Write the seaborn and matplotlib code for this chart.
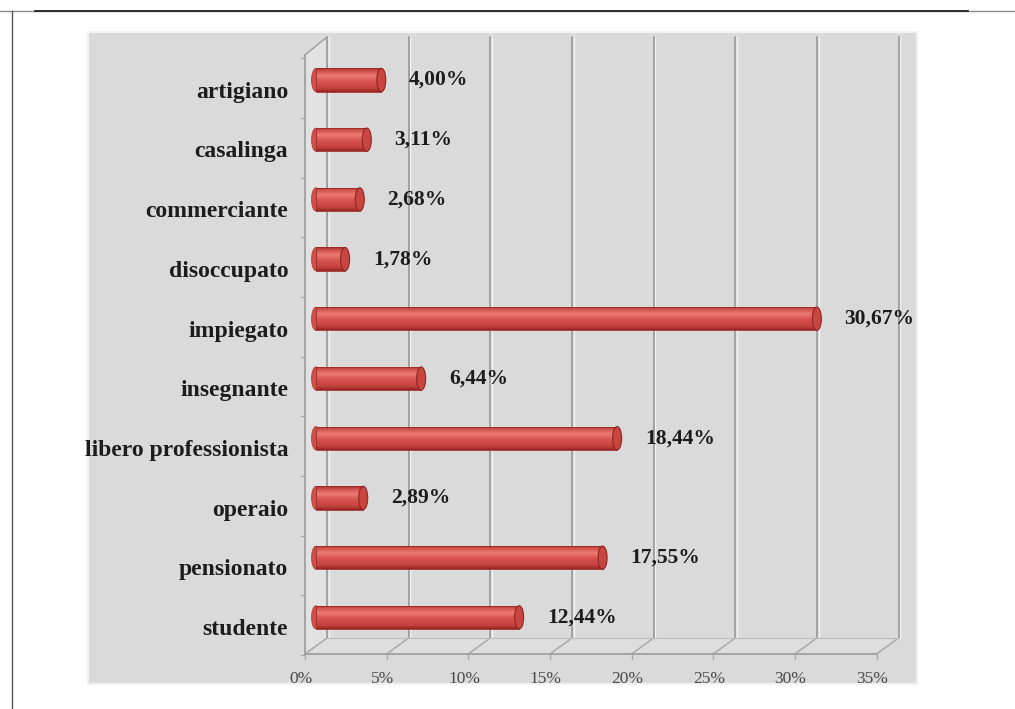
import numpy as np
import pandas as pd
import matplotlib
matplotlib.use("Agg")
import matplotlib.pyplot as plt
import matplotlib.transforms as mtransforms
from matplotlib.patches import Rectangle, Ellipse, Polygon
from matplotlib.lines import Line2D
from matplotlib.colors import LinearSegmentedColormap
import seaborn as sns

# ---- data -------------------------------------------------------------
categories = ["artigiano", "casalinga", "commerciante", "disoccupato", "impiegato",
              "insegnante", "libero professionista", "operaio", "pensionato", "studente"]
percentages = [4.00, 3.11, 2.68, 1.78, 30.67, 6.44, 18.44, 2.89, 17.55, 12.44]
x_ticks = [0, 5, 10, 15, 20, 25, 30, 35]
x_tick_labels = ["0%", "5%", "10%", "15%", "20%", "25%", "30%", "35%"]

df = pd.DataFrame({"professione": categories, "quota": percentages})

# ---- figure -----------------------------------------------------------
W, H, DPI = 1015, 709, 100
fig = plt.figure(figsize=(W / DPI, H / DPI), dpi=DPI)
fig.patch.set_facecolor("white")
SERIF = ["Liberation Serif", "DejaVu Serif"]


def px_box(x0, y0, x1, y1):
    return [x0 / W, 1 - y1 / H, (x1 - x0) / W, (y1 - y0) / H]


# page rules
fig.add_artist(Line2D([0, 1], [1 - 11 / H] * 2, transform=fig.transFigure,
                      color="#8a8a8a", lw=1.0, zorder=1))
fig.add_artist(Line2D([35 / W, 968 / W], [1 - 11 / H] * 2, transform=fig.transFigure,
                      color="#222222", lw=1.3, zorder=1))
fig.add_artist(Line2D([12 / W] * 2, [0, 1 - 11 / H], transform=fig.transFigure,
                      color="#555555", lw=1.0, zorder=1))

# grey chart panel
fig.add_artist(Rectangle((88 / W, 1 - 684 / H), (917 - 88) / W, (684 - 32) / H,
                         transform=fig.transFigure, facecolor="#dadada",
                         edgecolor="#f2f2f2", lw=1.5, zorder=-1))

PX_PER_PCT = 16.33
ax = fig.add_axes(px_box(316, 40, 316 + 35 * PX_PER_PCT, 646))
ax.set_facecolor("none")

sns.barplot(data=df, x="quota", y="professione", orient="h", color="#d9534f",
            width=0.39, ax=ax, edgecolor="#9c2b27", linewidth=0.8, zorder=3)
bars = list(ax.patches)

ax.set_xlim(0, 35)
ax.set_ylim(9.48, -0.67)
for s in ax.spines.values():
    s.set_visible(False)
ax.set_xlabel("")
ax.set_ylabel("")

# ---- pseudo-3D walls --------------------------------------------------
BACK = (11, 8)
FRONT = (-11, -8)
Y_TOP = -0.586
Y_FLOOR = 9.48
ident = mtransforms.IdentityTransform()


def P(x, y, off):
    X, Y = ax.transData.transform((x, y))
    return X + off[0], Y + off[1]


def seg(p, q, color="#a3a3a3", lw=1.3, z=1):
    ax.add_line(Line2D([p[0], q[0]], [p[1], q[1]], transform=ident, color=color,
                       lw=lw, zorder=z, clip_on=False, solid_capstyle="round"))


# left wall and floor faces
left_wall = [P(0, Y_TOP + 0.03, FRONT), P(0, Y_FLOOR, FRONT),
             P(0, Y_FLOOR, BACK), P(0, Y_TOP, BACK)]
ax.add_patch(Polygon(left_wall, closed=True, transform=ident, facecolor="#e2e2e2",
                     edgecolor="none", zorder=0.5, clip_on=False))
floor = [P(0, Y_FLOOR, FRONT), P(35, Y_FLOOR, FRONT),
         P(35, Y_FLOOR, BACK), P(0, Y_FLOOR, BACK)]
ax.add_patch(Polygon(floor, closed=True, transform=ident, facecolor="#dedede",
                     edgecolor="none", zorder=0.5, clip_on=False))

# back-wall gridlines with a light highlight beside each
for v in x_ticks:
    top, bot = P(v, Y_TOP, BACK), P(v, Y_FLOOR, BACK)
    seg((top[0] + 1.6, top[1]), (bot[0] + 1.6, bot[1]), color="#f3f3f3", lw=1.0)
    seg(top, bot, color="#9c9c9c")
    f = P(v, Y_FLOOR, FRONT)
    seg(bot, f, color="#a8a8a8", lw=1.1)
    seg(f, (f[0], f[1] - 5), color="#a8a8a8", lw=1.0)

# floor edges and left wall front edge
seg(P(0, Y_FLOOR, FRONT), P(35, Y_FLOOR, FRONT), color="#a0a0a0", lw=1.3)
seg(P(0, Y_FLOOR, BACK), P(35, Y_FLOOR, BACK), color="#bdbdbd", lw=0.8)
seg(P(0, Y_TOP + 0.03, FRONT), P(0, Y_FLOOR, FRONT), color="#a0a0a0", lw=1.3)
seg(P(0, Y_TOP + 0.03, FRONT), P(0, Y_TOP, BACK), color="#a0a0a0", lw=1.1)
for i in range(len(categories) + 1):
    p = P(0, i - 0.5, FRONT)
    seg(p, (p[0] - 4, p[1]), color="#a8a8a8", lw=0.9)

# ---- cylinder shading on bars ----------------------------------------
shade = LinearSegmentedColormap.from_list(
    "cyl", [(0.0, "#a52f2a"), (0.12, "#d0504a"), (0.32, "#ec7b74"),
            (0.55, "#d9544e"), (0.85, "#c4413b"), (1.0, "#952623")])
grad = np.linspace(0, 1, 64)[:, None]
cap_w = 9 / PX_PER_PCT
for patch in bars:
    x0, y0 = patch.get_x(), patch.get_y()
    w, h = patch.get_width(), patch.get_height()
    # rounded left end
    ax.add_patch(Ellipse((x0, y0 + h / 2), cap_w, h, facecolor="#d24f49",
                         edgecolor="#b23a35", lw=0.5, zorder=2.9, clip_on=False))
    im = ax.imshow(grad, extent=(x0, x0 + w, y0 + h, y0), origin="upper",
                   cmap=shade, aspect="auto", zorder=3.2, interpolation="bilinear")
    im.set_clip_path(patch)
    patch.set_facecolor("none")
    patch.set_linewidth(0.6)
    patch.set_zorder(3.4)
    # end face of the cylinder
    ax.add_patch(Ellipse((x0 + w, y0 + h / 2), cap_w, h, facecolor="#c9453f",
                         edgecolor="#8e2622", lw=0.8, zorder=3.6, clip_on=False))

ax.set_xlim(0, 35)
ax.set_ylim(9.48, -0.67)

# ---- labels -----------------------------------------------------------
ax.set_xticks(x_ticks)
ax.set_xticklabels(x_tick_labels, fontfamily=SERIF, fontsize=12.5, color="#4a4a4a")
ax.tick_params(axis="x", length=0, pad=18)
for lab in ax.get_xticklabels():
    lab.set_transform(lab.get_transform() +
                      mtransforms.ScaledTranslation(-11 / 72, 0, fig.dpi_scale_trans))

ax.set_yticks(range(len(categories)))
ax.set_yticklabels(categories, fontfamily=SERIF, fontsize=17, fontweight="bold",
                   color="#1c1c1c")
ax.tick_params(axis="y", length=0, pad=20)
for lab in ax.get_yticklabels():
    lab.set_transform(lab.get_transform() +
                      mtransforms.ScaledTranslation(0, -7 / 72, fig.dpi_scale_trans))

value_off = ax.transData + mtransforms.ScaledTranslation(20 / 72, 0, fig.dpi_scale_trans)
for i, v in enumerate(percentages):
    txt = f"{v:.2f}".replace(".", ",") + "%"
    ax.text(v, i, txt, transform=value_off, ha="left", va="center",
            fontfamily=SERIF, fontsize=15.5, fontweight="bold", color="#1c1c1c",
            zorder=5)

fig.savefig("out.png", dpi=DPI)
